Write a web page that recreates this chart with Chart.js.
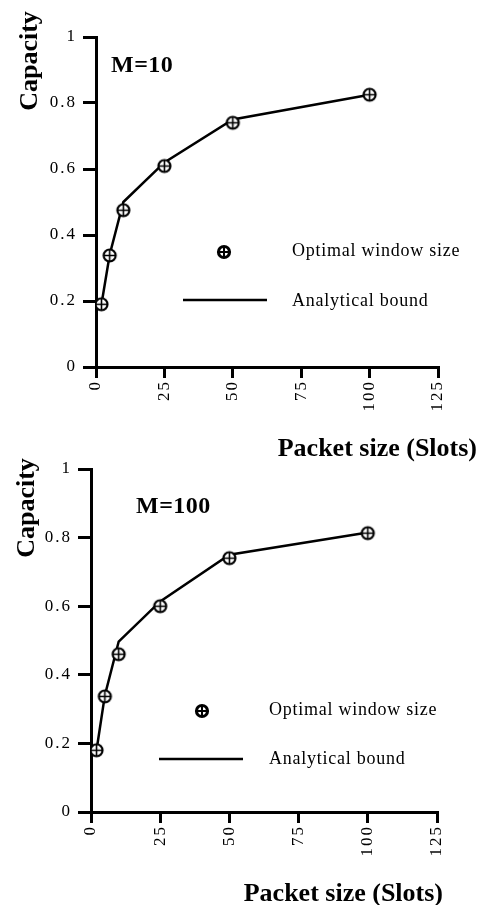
<!DOCTYPE html>
<html>
<head>
<meta charset="utf-8">
<script src="https://cdn.jsdelivr.net/npm/chart.js@4"></script>
<style>
  html, body { margin: 0; padding: 0; background: #fff; }
  body { width: 479px; height: 905px; position: relative; overflow: hidden; }
  canvas { position: absolute; left: 0; }
  #chartTop { top: 0; }
  #chartBottom { top: 445px; }
</style>
</head>
<body>
<canvas id="chartTop" width="479" height="465"></canvas>
<canvas id="chartBottom" width="479" height="460"></canvas>
<script>
// packet sizes (slots)
const packetSizes = [2, 5, 10, 25, 50, 100];

// M=10
const optimalM10 = [0.19, 0.338, 0.475, 0.609, 0.74, 0.825];
const boundM10 = [0.19, 0.34, 0.5, 0.62, 0.75, 0.825];

// M=100
const optimalM100 = [0.18, 0.337, 0.46, 0.6, 0.74, 0.813];
const boundM100 = [0.18, 0.34, 0.497, 0.614, 0.75, 0.815];

const xTicks = [0, 25, 50, 75, 100, 125];
const yTicks = [0, 0.2, 0.4, 0.6, 0.8, 1];

const SERIF = "'Liberation Serif', 'DejaVu Serif', serif";

// circle with a plus inside
function makeMarker(r, lw) {
  let c = document.createElement("canvas");
  let s = Math.ceil(r * 2 + lw + 2);
  c.width = s; c.height = s;
  let g = c.getContext("2d");
  let m = s / 2;
  g.fillStyle = "#fff";
  g.strokeStyle = "#000";
  g.lineWidth = lw;
  g.beginPath(); g.arc(m, m, r, 0, Math.PI * 2); g.fill(); g.stroke();
  g.lineWidth = 1.6;
  g.beginPath();
  g.moveTo(m - r, m); g.lineTo(m + r, m);
  g.moveTo(m, m - r); g.lineTo(m, m + r);
  g.stroke();
  return c;
}
const marker = makeMarker(6, 2.2);

function toXY(ys) {
  return packetSizes.map((x, i) => ({ x: x, y: ys[i] }));
}

// wide old-style spacing for tick labels
const spacing = {
  id: "spacing",
  beforeUpdate(chart) { chart.ctx.letterSpacing = "2px"; },
  beforeDraw(chart) { chart.ctx.letterSpacing = "2px"; }
};

// extra text: y title, M label, legend, x title
const decorations = {
  id: "decorations",
  afterDraw(chart, args, o) {
    let ctx = chart.ctx;
    ctx.save();
    ctx.fillStyle = "#000";
    ctx.strokeStyle = "#000";

    // y title
    ctx.save();
    ctx.letterSpacing = "0px";
    ctx.translate(o.yTitle[0], o.yTitle[1]);
    ctx.rotate(-Math.PI / 2);
    ctx.font = "bold 26px " + SERIF;
    ctx.textAlign = "center";
    ctx.textBaseline = "alphabetic";
    ctx.fillText("Capacity", 0, 0);
    ctx.restore();

    // M label
    ctx.letterSpacing = "0.5px";
    ctx.font = "bold 24px " + SERIF;
    ctx.textAlign = "left";
    ctx.textBaseline = "alphabetic";
    ctx.fillText(o.mText, o.mPos[0], o.mPos[1]);

    // legend
    let ds = chart.data.datasets;
    ctx.font = "18px " + SERIF;
    ctx.letterSpacing = "0.75px";
    ctx.textBaseline = "middle";
    let lg = o.legend;
    ctx.lineWidth = 3.2;
    ctx.beginPath(); ctx.arc(lg.markerX, lg.markerY, 5.5, 0, Math.PI * 2); ctx.fillStyle = "#fff"; ctx.fill(); ctx.stroke();
    ctx.lineWidth = 2;
    ctx.beginPath();
    ctx.moveTo(lg.markerX - 5.5, lg.markerY); ctx.lineTo(lg.markerX + 5.5, lg.markerY);
    ctx.moveTo(lg.markerX, lg.markerY - 5.5); ctx.lineTo(lg.markerX, lg.markerY + 5.5);
    ctx.stroke();
    ctx.fillStyle = "#000";
    ctx.fillText(ds[1].label, lg.textX, lg.textY1);
    ctx.lineWidth = 2.5;
    ctx.beginPath(); ctx.moveTo(lg.lineX1, lg.lineY); ctx.lineTo(lg.lineX2, lg.lineY); ctx.stroke();
    ctx.fillText(ds[0].label, lg.textX, lg.textY2);

    // x title
    ctx.letterSpacing = "0px";
    ctx.font = "bold 26px " + SERIF;
    ctx.textAlign = "right";
    ctx.textBaseline = "alphabetic";
    ctx.fillText("Packet size (Slots)", o.xTitle[0], o.xTitle[1]);
    ctx.restore();
  }
};

function makeChart(id, optimal, bound, pad, deco) {
  return new Chart(document.getElementById(id), {
    type: "line",
    data: {
      datasets: [
        {
          label: "Analytical bound",
          data: toXY(bound),
          borderColor: "#000",
          borderWidth: 2.5,
          pointRadius: 0,
          tension: 0,
          order: 2
        },
        {
          label: "Optimal window size",
          data: toXY(optimal),
          showLine: false,
          pointStyle: marker,
          pointRadius: 7,
          order: 1
        }
      ]
    },
    options: {
      responsive: false,
      animation: false,
      layout: { padding: pad },
      plugins: {
        legend: { display: false },
        tooltip: { enabled: false },
        decorations: deco
      },
      scales: {
        x: {
          type: "linear",
          min: 0,
          max: 125,
          afterBuildTicks: s => { s.ticks = xTicks.map(v => ({ value: v })); },
          afterFit: s => { s.height = 50; },
          border: { display: true, color: "#000", width: 3 },
          grid: { drawOnChartArea: false, drawTicks: true, tickLength: 11, color: "#000", lineWidth: 3 },
          ticks: {
            color: "#000",
            font: { family: SERIF, size: 17 },
            minRotation: 90,
            maxRotation: 90,
            padding: 2,
            callback: v => String(v)
          }
        },
        y: {
          min: 0,
          max: 1,
          afterBuildTicks: s => { s.ticks = yTicks.map(v => ({ value: v })); },
          afterFit: s => { s.width = 60; },
          border: { display: true, color: "#000", width: 3 },
          grid: { drawOnChartArea: false, drawTicks: true, tickLength: 13, color: "#000", lineWidth: 3 },
          ticks: {
            color: "#000",
            font: { family: SERIF, size: 17 },
            padding: 6,
            callback: v => String(v)
          }
        }
      }
    },
    plugins: [spacing, decorations]
  });
}

makeChart("chartTop", optimalM10, boundM10,
  { left: 36, right: 41, top: 37, bottom: 48 },
  {
    yTitle: [37, 61],
    mText: "M=10",
    mPos: [111, 72],
    legend: { markerX: 224, markerY: 252, textX: 292, textY1: 251, lineX1: 183, lineX2: 267, lineY: 300, textY2: 301 },
    xTitle: [477, 456]
  });

makeChart("chartBottom", optimalM100, boundM100,
  { left: 31, right: 42, top: 24, bottom: 43 },
  {
    yTitle: [34, 63],
    mText: "M=100",
    mPos: [136, 68],
    legend: { markerX: 202, markerY: 266, textX: 269, textY1: 265, lineX1: 159, lineX2: 243, lineY: 314, textY2: 314 },
    xTitle: [443, 456]
  });
</script>
</body>
</html>
